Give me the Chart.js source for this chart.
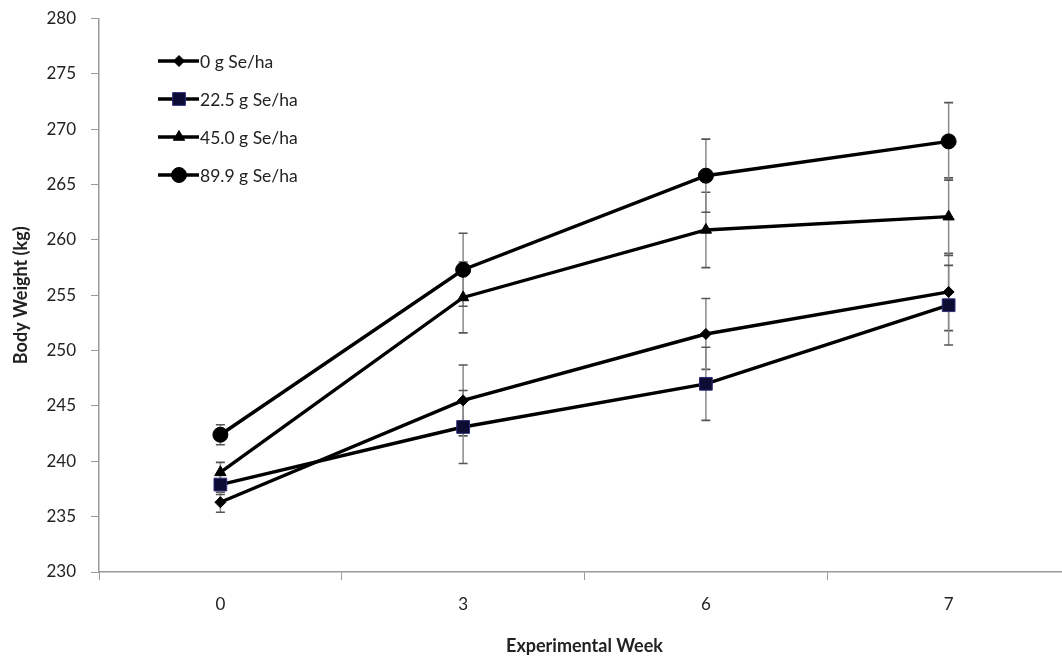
<!DOCTYPE html>
<html>
<head>
<meta charset="utf-8">
<script src="https://cdn.jsdelivr.net/npm/chart.js@4/dist/chart.umd.min.js"></script>
<style>
  html, body { margin: 0; padding: 0; background: #fff; overflow: hidden; width: 1062px; height: 657px; }
  canvas { display: block; position: absolute; left: 0; top: 0; }
</style>
</head>
<body>
<canvas id="c" width="1080" height="657" style="width:1080px;height:657px"></canvas>
<script>
// ---- data ----
const weeks = ['0', '3', '6', '7'];
const seriesNames = ['0 g Se/ha', '22.5 g Se/ha', '45.0 g Se/ha', '89.9 g Se/ha'];
const se0 = [236.3, 245.5, 251.5, 255.3];
const se225 = [237.9, 243.1, 247.0, 254.1];
const se45 = [239.0, 254.8, 260.9, 262.1];
const se899 = [242.4, 257.3, 265.8, 268.9];
const err0 = [0.9, 3.2, 3.2, 3.5];
const err225 = [0.9, 3.3, 3.3, 3.6];
const err45 = [0.9, 3.2, 3.4, 3.5];
const err899 = [0.9, 3.3, 3.3, 3.5];
const yMin = 230, yMax = 280, yStep = 5;

const FONT = 'Lato, "Open Sans", "DejaVu Sans", sans-serif';

const datasets = [
  { label: seriesNames[0], data: se0, err: err0, pointStyle: 'rectRot', pointRadius: 5.5,
    pointBackgroundColor: '#000', pointBorderColor: '#000', pointBorderWidth: 1 },
  { label: seriesNames[1], data: se225, err: err225, pointStyle: 'rect', pointRadius: 9,
    pointBackgroundColor: '#0d0d33', pointBorderColor: '#2b2b7a', pointBorderWidth: 1 },
  { label: seriesNames[2], data: se45, err: err45, pointStyle: 'triangle', pointRadius: 6.5,
    pointBackgroundColor: '#000', pointBorderColor: '#000', pointBorderWidth: 1 },
  { label: seriesNames[3], data: se899, err: err899, pointStyle: 'circle', pointRadius: 7.5,
    pointBackgroundColor: '#000', pointBorderColor: '#000', pointBorderWidth: 1 }
].map(d => Object.assign({
  borderColor: '#000', borderWidth: 3.4, fill: false, tension: 0,
  pointHoverRadius: d.pointRadius
}, d));

const errorBars = {
  id: 'errorBars',
  beforeDatasetsDraw(chart) {
    const ctx = chart.ctx;
    const x = chart.scales.x, y = chart.scales.y;
    ctx.save();
    chart.data.datasets.forEach((ds) => {
      ds.data.forEach((v, i) => {
        const e = ds.err[i];
        const px = x.getPixelForValue(i);
        const top = y.getPixelForValue(v + e);
        const bot = y.getPixelForValue(v - e);
        ctx.strokeStyle = '#8a8a8a';
        ctx.lineWidth = 1.5;
        ctx.beginPath();
        ctx.moveTo(px, top); ctx.lineTo(px, bot);
        ctx.stroke();
        ctx.strokeStyle = '#555';
        ctx.lineWidth = 1.6;
        ctx.beginPath();
        ctx.moveTo(px - 4.5, top); ctx.lineTo(px + 4.5, top);
        ctx.moveTo(px - 4.5, bot); ctx.lineTo(px + 4.5, bot);
        ctx.stroke();
      });
    });
    ctx.restore();
  }
};

const customLegend = {
  id: 'customLegend',
  afterDraw(chart) {
    const ctx = chart.ctx;
    const rows = [61, 99, 137, 175];
    ctx.save();
    chart.data.datasets.forEach((ds, i) => {
      const yy = rows[i];
      ctx.strokeStyle = '#000';
      ctx.lineWidth = 3.4;
      ctx.beginPath();
      ctx.moveTo(158, yy); ctx.lineTo(199, yy);
      ctx.stroke();
      ctx.fillStyle = ds.pointBackgroundColor;
      ctx.strokeStyle = ds.pointBorderColor;
      ctx.lineWidth = ds.pointBorderWidth;
      Chart.helpers.drawPoint(ctx, { pointStyle: ds.pointStyle, radius: ds.pointRadius, rotation: 0, borderWidth: ds.pointBorderWidth }, 179, yy);
      ctx.fillStyle = '#222';
      ctx.font = '17.5px ' + FONT;
      ctx.textBaseline = 'middle';
      ctx.textAlign = 'left';
      ctx.fillText(ds.label, 200, yy + 1);
    });
    ctx.restore();
  }
};

new Chart(document.getElementById('c'), {
  type: 'line',
  data: { labels: weeks, datasets },
  plugins: [errorBars, customLegend],
  options: {
    responsive: false,
    animation: false,
    devicePixelRatio: 1,
    layout: { padding: { left: 0, top: 18.5, right: 7, bottom: 0 } },
    plugins: { legend: { display: false }, tooltip: { enabled: false } },
    scales: {
      x: {
        type: 'category',
        offset: true,
        afterFit(s) { s.height = 85; s.paddingLeft = 0; s.paddingRight = 0; },
        grid: { offset: true, drawOnChartArea: false, drawTicks: true, tickLength: 8, color: '#9a9a9a', lineWidth: 1 },
        border: { color: '#9a9a9a', width: 1.5 },
        ticks: { color: '#222', font: { family: FONT, size: 17 }, padding: 14, maxRotation: 0 },
        title: { display: true, text: 'Experimental Week', color: '#222',
                 font: { family: FONT, size: 18, weight: 'bold' }, padding: { top: 0, bottom: 0 } }
      },
      y: {
        min: yMin, max: yMax,
        afterFit(s) { s.width = 99; s.paddingTop = 0; s.paddingBottom = 0; },
        grid: { drawOnChartArea: false, drawTicks: true, tickLength: 8, color: '#9a9a9a', lineWidth: 1 },
        border: { color: '#9a9a9a', width: 1.5 },
        ticks: { stepSize: yStep, color: '#222', font: { family: FONT, size: 17 }, padding: 15 },
        title: { display: true, text: 'Body Weight (kg)', color: '#222',
                 font: { family: FONT, size: 18, weight: 'bold' }, padding: { top: 10, bottom: 0 } }
      }
    }
  }
});
</script>
</body>
</html>
